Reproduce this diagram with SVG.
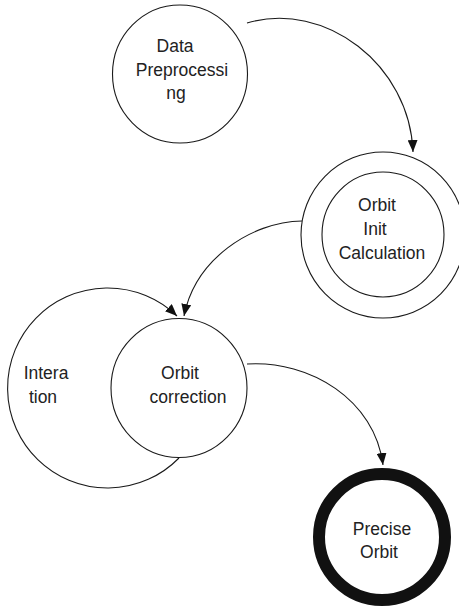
<svg xmlns="http://www.w3.org/2000/svg" width="459" height="610" viewBox="0 0 459 610">
  <style>
    .node { fill: #ffffff; stroke: #1a1a1a; stroke-width: 1.1; }
    .final { fill: #ffffff; stroke: #111111; stroke-width: 12; }
    .edge { fill: none; stroke: #1a1a1a; stroke-width: 1.1; marker-end: url(#arrow); }
    text { font-family: "Liberation Sans", Arial, sans-serif; font-size: 17.5px; fill: #222222; text-anchor: middle; }
  </style>
  <defs>
    <marker id="arrow" viewBox="0 0 12 10" refX="12" refY="5" markerWidth="12" markerHeight="10" markerUnits="userSpaceOnUse" orient="auto">
      <path d="M0,0 L12,5 L0,10 Z" fill="#111111"/>
    </marker>
  </defs>

  <!-- connectors -->
  <g id="edges">
    <path class="edge" d="M247,23 C325,0 410,65 413,152"/>
    <path class="edge" d="M302,221 C250,222 195,260 184,316"/>
    <path class="edge" d="M179,458 A100,100 0 1 1 177,316"/>
    <path class="edge" d="M247,364 C310,360 375,400 383,465"/>
  </g>

  <g id="data-preprocessing">
    <ellipse class="node" cx="180" cy="74" rx="67.5" ry="69"/>
    <text x="175" y="52">Data</text>
    <text x="182" y="76">Preprocessi</text>
    <text x="176" y="99">ng</text>
  </g>

  <g id="orbit-init-calculation">
    <ellipse class="node" cx="383" cy="235" rx="82" ry="83"/>
    <ellipse class="node" cx="383" cy="234.5" rx="61" ry="62.5"/>
    <text x="377" y="211">Orbit</text>
    <text x="375" y="235">Init</text>
    <text x="382" y="259">Calculation</text>
  </g>

  <g id="interation">
    <text x="46" y="379">Intera</text>
    <text x="43" y="403">tion</text>
  </g>

  <g id="orbit-correction">
    <ellipse class="node" cx="179" cy="388" rx="68" ry="69.5"/>
    <text x="180" y="379">Orbit</text>
    <text x="188" y="403">correction</text>
  </g>

  <g id="precise-orbit">
    <circle class="final" cx="382" cy="537" r="63"/>
    <text x="382" y="535">Precise</text>
    <text x="379" y="558">Orbit</text>
  </g>
</svg>
